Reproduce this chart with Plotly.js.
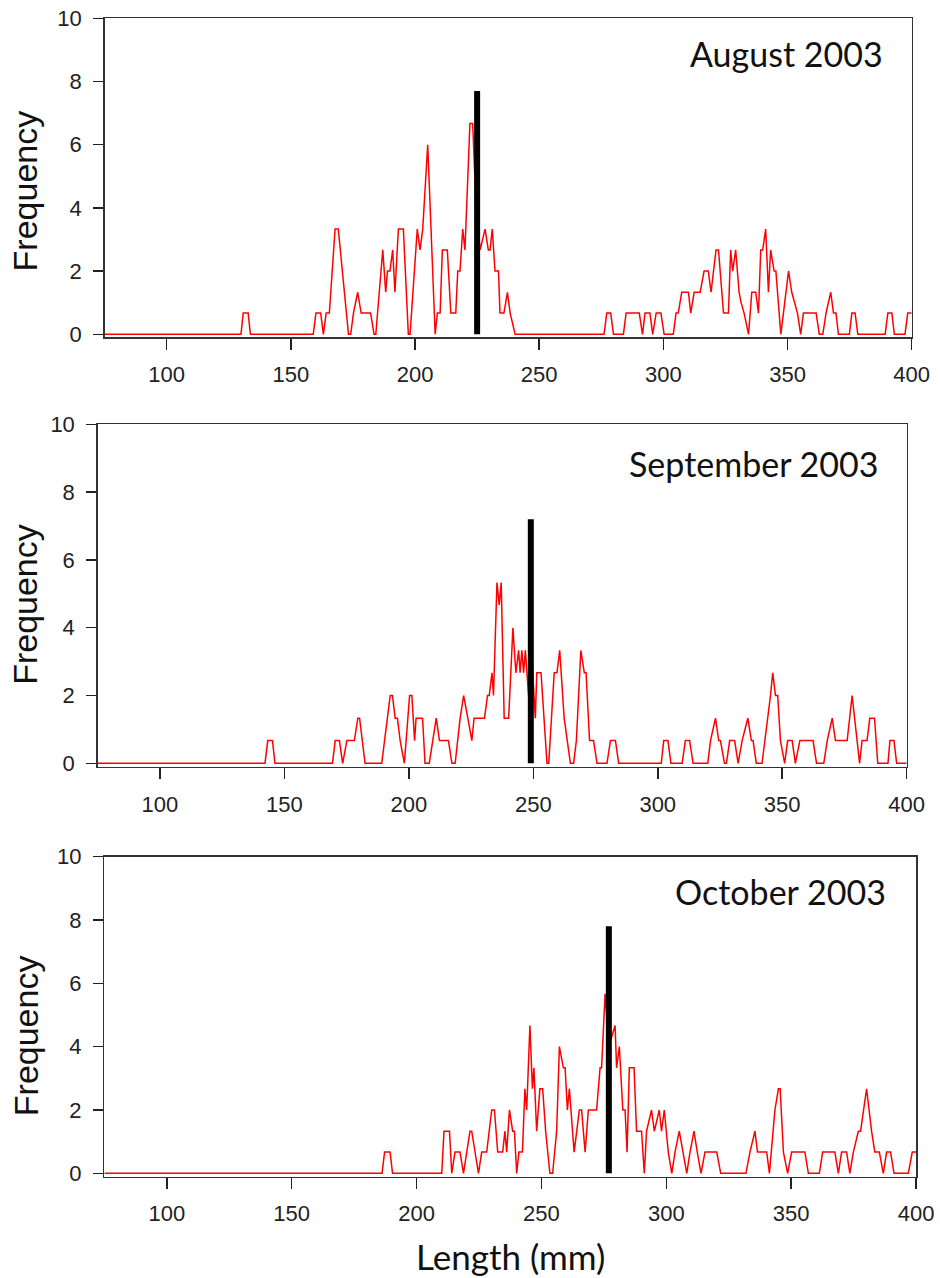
<!DOCTYPE html>
<html>
<head>
<meta charset="utf-8">
<script src="https://cdn.plot.ly/plotly-3.0.1.min.js"></script>
<style>html,body{margin:0;padding:0;background:#fff;}#chart{width:940px;height:1278px;}</style>
</head>
<body>
<div id="chart"></div>
<script>
// ---- Data (length in mm, frequency = smoothed count) ----
const monthLabels = ["August 2003", "September 2003", "October 2003"];
const meanLength = [225, 249, 277];
const meanMarkerHeight = [7.7, 7.2, 7.8];
const xTickVals = [100, 150, 200, 250, 300, 350, 400];
const yTickVals = [0, 2, 4, 6, 8, 10];

const augLength = [75,129.9,130.8,132.8,133.7,159.0,160.1,162.0,163.1,164.2,165.5,167.8,169.1,173.2,174.1,175.2,176.9,178.3,182.1,183.5,184.2,187.0,188.2,188.9,189.9,191.0,191.9,193.3,195.3,197.3,198.0,200.9,202.0,203.1,205.1,208.1,209.0,210.1,211.0,213.0,214.4,216.4,217.2,218.1,219.2,220.1,222.1,223.2,224.6,226.2,228.2,229.5,230.2,231.1,232.2,233.6,234.2,235.8,237.2,238.3,240.3,276.1,277.2,278.8,279.9,283.9,285.0,290.3,291.6,292.6,294.6,295.7,297.1,299.0,300.3,304.0,305.1,306.0,307.4,310.1,311.0,312.4,314.8,316.4,318.1,319.2,321.2,322.2,324.2,326.2,327.1,327.9,329.1,330.5,331.3,332.5,334.3,335.6,337.2,338.3,339.2,340.0,341.2,342.3,343.2,344.6,345.3,347.3,350.4,351.7,354.0,355.3,356.4,361.5,362.8,364.2,365.5,367.4,368.5,369.5,370.5,374.9,375.9,377.2,378.3,389.3,390.4,392.0,393.0,397.3,398.4,400];
const augFreq = [0,0,0.67,0.67,0,0,0.67,0.67,0,0.67,0.67,3.33,3.33,0,0,0.67,1.33,0.67,0.67,0,0,2.67,1.33,2,2,2.67,1.33,3.33,3.33,0,0,3.33,2.67,3.33,6,0,0.67,0.67,2.67,2.67,0.67,0.67,2,2,3.33,2.67,6.67,6.67,4,2.67,3.33,2.67,2.67,3.33,2,2,0.67,0.67,1.33,0.67,0,0,0.67,0.67,0,0,0.67,0.67,0,0.67,0.67,0,0.67,0.67,0,0,0.67,0.67,1.33,1.33,0.67,1.33,1.33,2,2,1.33,2.67,2.67,0.67,0.67,2.67,2,2.67,1.33,1,0.67,0,1.33,1.33,0.67,2.67,2.67,3.33,1.33,2.67,2,2,0,2,1.33,0.67,0,0.67,0.67,0,0,0.67,1.33,0.67,0.67,0,0,0.67,0.67,0,0,0.67,0.67,0,0,0.67,0.67];

const sepLength = [75,142.2,143.3,145.2,146.2,169.3,170.4,172.1,173.4,175.1,178.1,179.5,180.2,182.4,189.1,192.5,193.4,194.5,195.4,196.5,198.2,200.3,201.2,202.3,202.9,205.5,206.5,208.2,209.6,211.0,212.3,215.9,217.3,218.6,220.6,222.0,223.7,225.3,226.2,230.4,231.6,232.3,233.4,234.0,235.4,236.3,237.1,238.3,240.1,241.8,243.0,244.1,244.7,245.4,246.1,246.8,248.1,249.5,250.8,251.4,253.1,255.5,256.2,258.4,259.5,260.6,262.4,264.9,266.2,267.3,269.1,270.5,271.2,272.6,274.2,275.6,279.6,281.0,283.0,284.3,301.4,302.4,304.1,305.3,309.8,311.1,312.8,314.2,320.1,321.2,323.2,324.5,325.2,326.8,327.6,328.9,330.9,332.3,333.9,336.2,337.6,338.3,339.6,341.9,345.3,346.2,347.3,348.2,349.3,351.0,352.2,354.0,355.3,357.1,362.4,363.8,366.7,368.1,370.1,371.4,376.1,378.1,379.6,381.1,382.1,384.1,385.2,387.1,388.4,392.5,393.3,394.9,396.0,400];
const sepFreq = [0,0,0.67,0.67,0,0,0.67,0.67,0,0.67,0.67,1.33,1.33,0,0,2,2,1.33,1.33,0.67,0,2,2,0.67,1.33,1.33,0,0,0.67,1.33,0.67,0.67,0,0,1.33,2,1.33,0.67,1.33,1.33,2,2,2.67,2,5.33,4.67,5.33,1.33,1.33,4,2.67,3.33,2.67,3.33,2.67,3.33,2,3,1.33,2.67,2.67,0,0,2.67,2.67,3.33,1.33,0,0,0.67,3.33,2.67,2.67,0.67,0.67,0,0,0.67,0.67,0,0,0.67,0.67,0,0,0.67,0.67,0,0,0.67,1.33,0.67,0.67,0,0,0.67,0.67,0,0.67,1.33,0.67,0.67,0,0,2,2.67,2,2,0.67,0,0.67,0.67,0,0.67,0.67,0,0,0.67,1.33,0.67,0.67,2,1,0,0.67,0.67,1.33,1.33,0,0,0.67,0.67,0,0];

const octLength = [75,186.2,187.2,189.4,190.4,210.1,211.0,213.2,214.1,215.4,217.4,218.8,221.4,222.1,224.8,226.1,228.1,230.1,231.2,232.5,234.5,235.4,236.1,237.2,238.5,239.2,240.1,241.0,242.4,243.4,244.1,245.4,246.4,247.0,248.1,249.4,250.5,251.7,253.4,254.5,256.1,257.2,258.8,259.5,260.4,261.2,263.1,265.2,266.1,267.5,268.8,272.1,273.5,274.1,275.5,277,279.5,280.1,281.2,282.6,283.5,284.3,285.2,287.1,288.1,290.1,291.2,292.1,294.1,295.2,297.2,298.1,299.2,300.8,302.2,303.5,305.2,306.8,308.2,309.5,311.1,312.4,313.9,315.5,320.2,321.8,331.9,333.5,335.5,336.5,340.2,341.3,343.5,344.9,345.6,346.9,348.6,350.2,355.5,356.9,361.3,362.6,367.5,368.9,370.2,372.2,373.5,374.9,376.9,377.8,380.2,382.2,383.5,385.3,386.9,388.2,389.8,391.2,396.9,398.5,400];
const octFreq = [0,0,0.67,0.67,0,0,1.33,1.33,0,0.67,0.67,0,1.33,1.33,0,0.67,0.67,2,2,0.67,0.67,1.33,0.67,2,1.33,1.33,0,0.67,0.67,2.67,2,4.67,2.67,3.33,1.33,2.67,2.67,1.33,0,0,1.33,4,3.33,3.33,2,2.67,0.67,2,2,0.67,2,2,3.33,3.33,5.67,4,4.67,3.33,4,2,2,0.67,3.33,3.33,1.33,1.33,0,1.33,2,1.33,2,1.33,2,0.67,0,0.67,1.33,0.67,0,0.67,1.33,0.67,0,0.67,0.67,0,0,0.67,1.33,0.67,0.67,0,2,2.67,2.67,0.67,0,0.67,0.67,0,0,0.67,0.67,0,0.67,0.67,0,0.67,1.33,1.33,2.67,1.33,0.67,0.67,0,0.67,0.67,0,0,0.67,0.67];

const lengths = [augLength, sepLength, octLength];
const freqs = [augFreq, sepFreq, octFreq];

// ---- Layout geometry (paper fractions) ----
const xDomains = [[0.1113, 0.9699], [0.1040, 0.9645], [0.1110, 0.9745]];
const yDomains = [[0.73595, 0.98568], [0.40008, 0.66800], [0.07942, 0.32973]];
const labelY = [0.9578, 0.6371, 0.3021];
const labelX = [0.9415, 0.9365, 0.9450];
const freqLabelY = [0.8505, 0.5270, 0.1895];

const traces = [];
const layout = {
  width: 940, height: 1278,
  margin: {l: 0, r: 0, t: 0, b: 0},
  paper_bgcolor: '#fff', plot_bgcolor: '#fff',
  showlegend: false,
  annotations: [],
  font: {family: 'Liberation Sans, Arial, sans-serif', color: '#222'}
};

for (let i = 0; i < 3; i++) {
  const sfx = i === 0 ? '' : String(i + 1);
  traces.push({
    type: 'scatter', mode: 'lines', x: lengths[i], y: freqs[i],
    xaxis: 'x' + sfx, yaxis: 'y' + sfx,
    line: {color: '#ff0000', width: 1.5}, hoverinfo: 'skip'
  });
  traces.push({
    type: 'scatter', mode: 'lines', x: [meanLength[i], meanLength[i]], y: [0, meanMarkerHeight[i]],
    xaxis: 'x' + sfx, yaxis: 'y' + sfx,
    line: {color: '#000', width: 6}, hoverinfo: 'skip'
  });
  layout['xaxis' + sfx] = {
    domain: xDomains[i], anchor: 'y' + sfx, range: [75, 400],
    tickvals: xTickVals, ticktext: xTickVals.map(String),
    ticks: 'outside', ticklen: 11, tickwidth: 1.5, tickcolor: '#222',
    ticklabelstandoff: 6,
    showline: true, linecolor: '#333', linewidth: 1.5, mirror: true,
    showgrid: false, zeroline: false,
    tickfont: {family: 'Liberation Sans, Arial, sans-serif', size: 22, color: '#222'}
  };
  layout['yaxis' + sfx] = {
    domain: yDomains[i], anchor: 'x' + sfx, range: [-0.1, 10],
    tickvals: yTickVals, ticktext: yTickVals.map(String),
    ticks: 'outside', ticklen: 10, tickwidth: 1.5, tickcolor: '#222',
    ticklabelstandoff: 7,
    showline: true, linecolor: '#333', linewidth: 1.5, mirror: true,
    showgrid: false, zeroline: false,
    tickfont: {family: 'Liberation Sans, Arial, sans-serif', size: 22, color: '#222'}
  };
  layout.annotations.push({
    text: monthLabels[i], xref: 'paper', yref: 'paper',
    x: labelX[i], y: labelY[i], xanchor: 'right', yanchor: 'middle', showarrow: false,
    font: {family: 'Lato, Open Sans, sans-serif', size: 34, color: '#111'}
  });
  layout.annotations.push({
    text: 'Frequency', xref: 'paper', yref: 'paper', textangle: -90,
    x: 0.027, y: freqLabelY[i], xanchor: 'center', yanchor: 'middle', showarrow: false,
    font: {family: 'Liberation Sans, Arial, sans-serif', size: 34, color: '#111'}
  });
}
layout.annotations.push({
  text: 'Length (mm)', xref: 'paper', yref: 'paper',
  x: 0.5426, y: 0.0172, xanchor: 'center', yanchor: 'middle', showarrow: false,
  font: {family: 'Lato, Open Sans, sans-serif', size: 35, color: '#111'}
});

Plotly.newPlot('chart', traces, layout, {staticPlot: true, displayModeBar: false});
</script>
</body>
</html>
